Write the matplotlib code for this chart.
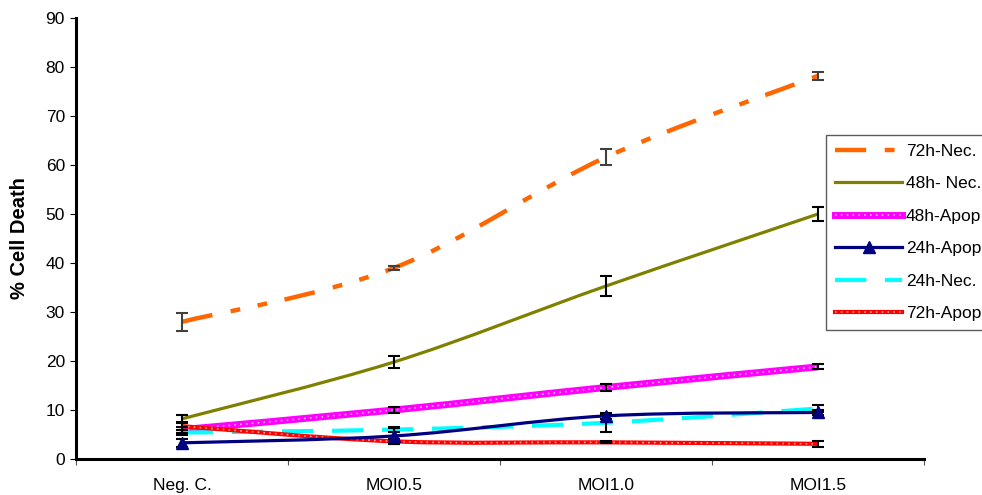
import numpy as np
import matplotlib
matplotlib.use("Agg")
import matplotlib.pyplot as plt
from matplotlib.path import Path
from matplotlib.patches import PathPatch
from matplotlib.lines import Line2D
from matplotlib.legend_handler import HandlerTuple

plt.rcParams['font.family'] = ['Liberation Sans', 'DejaVu Sans']

categories = ["Neg. C.", "MOI0.5", "MOI1.0", "MOI1.5"]
labels = ["72h-Nec.", "48h- Nec.", "48h-Apop.", "24h-Apop.", "24h-Nec.", "72h-Apop."]

nec72 = [28.0, 39.0, 61.6, 78.2]
nec72_err = [1.8, 0.4, 1.6, 0.8]
nec48 = [8.2, 19.8, 35.3, 50.0]
nec48_err = [0.8, 1.2, 2.0, 1.5]
apop48 = [6.0, 10.0, 14.6, 18.8]
apop48_err = [0.6, 0.6, 0.8, 0.5]
apop24 = [3.3, 4.7, 8.8, 9.5]
apop24_err = [0.8, 1.6, 0.6, 0.6]
nec24 = [5.4, 6.0, 7.4, 10.3]
nec24_err = [0.6, 0.5, 1.8, 0.8]
apop72 = [6.7, 3.6, 3.4, 3.1]
apop72_err = [0.8, 0.5, 0.2, 0.6]

fig = plt.figure(figsize=(9.82, 4.95), dpi=100)
ax = fig.add_axes([76/982, 36/495, 848/982, 441/495])
x = np.arange(len(categories))


def smooth_path(xs, ys):
    p = np.column_stack([xs, ys]).astype(float)
    n = len(p)
    verts = [p[0]]
    codes = [Path.MOVETO]
    for i in range(n - 1):
        p0 = p[i - 1] if i > 0 else p[i]
        p3 = p[i + 2] if i + 2 < n else p[i + 1]
        c1 = p[i] + (p[i + 1] - p0) / 6.0
        c2 = p[i + 1] - (p3 - p[i]) / 6.0
        verts += [c1, c2, p[i + 1]]
        codes += [Path.CURVE4] * 3
    return Path(verts, codes)


DOTS = (0, (1, 2.5))


def draw(ys, color, lw, ls='-', z=2, overlay=None):
    path = smooth_path(x, ys)
    ax.add_patch(PathPatch(path, facecolor='none', edgecolor=color, lw=lw,
                           linestyle=ls, zorder=z, capstyle='butt'))
    if overlay is not None:
        ax.add_patch(PathPatch(path, facecolor='none', edgecolor=overlay, lw=1.2,
                               linestyle=DOTS, zorder=z + 0.01))


def ebar(ys, err, color='black', z=5):
    ax.errorbar(x, ys, yerr=err, fmt='none', ecolor=color, elinewidth=1.5,
                capsize=4, capthick=1.5, zorder=z)


dash72 = (0, (7, 4.2, 2.2, 4.0, 2.2, 4.0))
dash24 = (0, (7.5, 4.5))

draw(nec72, '#FF6600', 3.2, dash72, z=2)
draw(nec48, '#808000', 2.3, '-', z=2.1)
draw(apop48, '#FF00FF', 5.0, '-', z=2.2, overlay='#FFB0FF')
draw(nec24, '#00FFFF', 3.0, dash24, z=2.3)
draw(apop72, '#FF0000', 3.0, '-', z=2.4, overlay='#FF9A9A')
draw(apop24, '#000080', 2.3, '-', z=2.5)
ax.plot(x, apop24, linestyle='none', marker='^', color='#000080', markersize=8, zorder=6)

ebar(nec72, nec72_err, color='#404040')
ebar(nec48, nec48_err)
ebar(apop48, apop48_err)
ebar(apop24, apop24_err)
ebar(nec24, nec24_err)
ebar(apop72, apop72_err)

ax.set_xlim(-0.5, 3.5)
ax.set_ylim(0, 90)
ax.set_yticks(np.arange(0, 91, 10))
ax.set_xticks(np.arange(-0.5, 3.6, 1.0))
ax.set_xticklabels([])
ax.set_xticks(x, minor=True)
ax.set_xticklabels(categories, minor=True)
ax.tick_params(axis='x', which='major', direction='out', length=4, width=0.8, color='#555555')
ax.tick_params(axis='x', which='minor', length=0, pad=14, labelsize=12.5)
ax.tick_params(axis='y', direction='out', length=4, width=0.8, pad=4, labelsize=12.5)

for s in ['top', 'right']:
    ax.spines[s].set_visible(False)
for s in ['left', 'bottom']:
    ax.spines[s].set_linewidth(2.2)

ax.set_ylabel('% Cell Death', fontsize=14.5, fontweight='bold')
ax.yaxis.set_label_coords(-0.056, 0.5)

h72 = Line2D([], [], color='#FF6600', lw=3.2, linestyle=dash72)
h48n = Line2D([], [], color='#808000', lw=2.3)
h48a = (Line2D([], [], color='#FF00FF', lw=5.0),
        Line2D([], [], color='#FFB0FF', lw=1.2, linestyle=DOTS))
h24a = Line2D([], [], color='#000080', lw=2.3, marker='^', markersize=8)
h24n = Line2D([], [], color='#00FFFF', lw=3.0, linestyle=dash24)
h72a = (Line2D([], [], color='#FF0000', lw=3.0),
        Line2D([], [], color='#FF9A9A', lw=1.2, linestyle=DOTS))

leg = fig.legend([h72, h48n, h48a, h24a, h24n, h72a], labels,
                 handler_map={tuple: HandlerTuple(ndivide=1, pad=0)},
                 loc='upper left', bbox_to_anchor=(826/982, 1 - 135/495),
                 fontsize=12.5, handlelength=3.9, handletextpad=0.2,
                 labelspacing=1.0, borderpad=0.5, borderaxespad=0,
                 fancybox=False, frameon=True)
leg.get_frame().set_edgecolor('#333333')
leg.get_frame().set_linewidth(1.0)

fig.savefig('out.png', dpi=100)
